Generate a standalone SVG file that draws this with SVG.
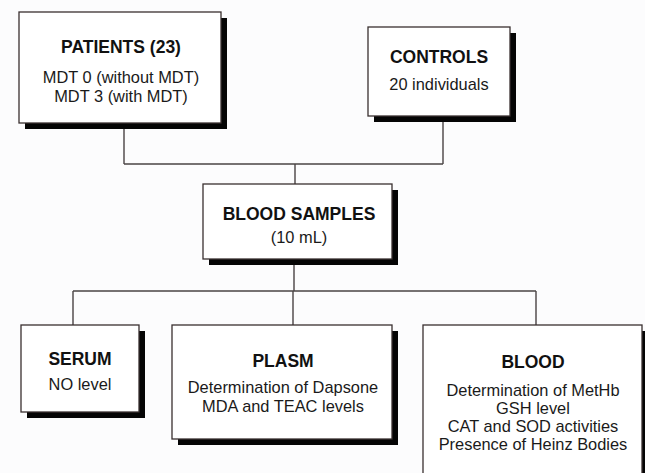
<svg xmlns="http://www.w3.org/2000/svg" width="645" height="473" viewBox="0 0 645 473">
<defs>
<style>
.bg{fill:#fcfcfd}
.box{fill:#ffffff;stroke:#3a3030;stroke-width:1.3}
.sh{fill:#050505}
.t{font-family:"Liberation Sans",Arial,sans-serif;font-size:17.5px;font-weight:bold;fill:#111;text-anchor:middle}
.s{font-family:"Liberation Sans",Arial,sans-serif;font-size:16.4px;fill:#1a1a1a;text-anchor:middle}
.c{fill:none;stroke:#4a4444;stroke-width:1.4}
</style>
</defs>
<rect class="bg" x="0" y="0" width="645" height="473"/>
<g id="connectors">
<path class="c" d="M124 123V164M443 116V164M124 164H443M295 164V184"/>
<path class="c" d="M294 259V291M73 291H536M73 291V325M293 291V325M536 291V325"/>
</g>
<g id="patients">
<rect class="sh" x="25" y="18" width="202" height="111"/>
<rect class="box" x="19" y="12" width="202" height="111"/>
<text class="t" x="121" y="53">PATIENTS (23)</text>
<text class="s" x="121" y="83">MDT 0 (without MDT)</text>
<text class="s" x="121" y="102">MDT 3 (with MDT)</text>
</g>
<g id="controls">
<rect class="sh" x="374" y="33" width="142" height="89"/>
<rect class="box" x="368" y="27" width="142" height="89"/>
<text class="t" x="439" y="63">CONTROLS</text>
<text class="s" x="439" y="90">20 individuals</text>
</g>
<g id="blood-samples">
<rect class="sh" x="209" y="190" width="189" height="75"/>
<rect class="box" x="203" y="184" width="189" height="75"/>
<text class="t" x="299" y="220">BLOOD SAMPLES</text>
<text class="s" x="299" y="243">(10 mL)</text>
</g>
<g id="serum">
<rect class="sh" x="27" y="331" width="118" height="87"/>
<rect class="box" x="21" y="325" width="118" height="87"/>
<text class="t" x="80" y="365">SERUM</text>
<text class="s" x="80" y="390">NO level</text>
</g>
<g id="plasm">
<rect class="sh" x="178" y="331" width="220" height="114"/>
<rect class="box" x="172" y="325" width="220" height="114"/>
<text class="t" x="283" y="367">PLASM</text>
<text class="s" x="283" y="393">Determination of Dapsone</text>
<text class="s" x="283" y="412">MDA and TEAC levels</text>
</g>
<g id="blood">
<rect class="sh" x="429" y="331" width="219" height="160"/>
<rect class="box" x="423" y="325" width="219" height="160"/>
<text class="t" x="533" y="368">BLOOD</text>
<text class="s" x="533" y="396">Determination of MetHb</text>
<text class="s" x="533" y="414">GSH level</text>
<text class="s" x="533" y="432">CAT and SOD activities</text>
<text class="s" x="533" y="450">Presence of Heinz Bodies</text>
</g>
</svg>
